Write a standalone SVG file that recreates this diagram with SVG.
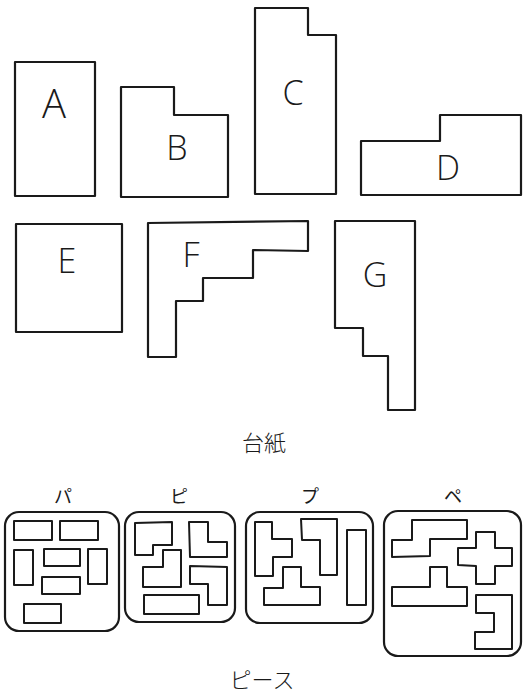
<svg xmlns="http://www.w3.org/2000/svg" width="530" height="697" viewBox="0 0 530 697">
<style>
.s{fill:none;stroke:#1a1a1a;stroke-width:2.2;stroke-linejoin:round;stroke-linecap:round}
.p{fill:none;stroke:#1a1a1a;stroke-width:2;stroke-linejoin:round}
.f{fill:none;stroke:#1a1a1a;stroke-width:2.2}
.lt{font-family:"Open Sans","Liberation Sans",sans-serif;font-weight:300;font-size:34px;fill:#1a1a1a;text-anchor:middle}
.kt{font-family:"Noto Sans CJK JP",sans-serif;font-size:18px;fill:#1a1a1a;text-anchor:middle}
.cap{font-family:"Noto Sans CJK JP",sans-serif;font-weight:300;font-size:22px;fill:#1a1a1a;text-anchor:middle}
</style>
<rect width="530" height="697" fill="#fff"/>

<g id="A">
<rect class="s" x="15" y="62" width="80" height="134"/>
<text class="lt" x="54" y="118" style="font-size:40px">A</text>
</g>
<g id="B">
<polygon class="s" points="121,87 174,87 174,115 228,115 228,197 121,197"/>
<text class="lt" x="177" y="160">B</text>
</g>
<g id="C">
<polygon class="s" points="255,8 308,8 308,35 336,35 336,194 255,194"/>
<text class="lt" x="293" y="105">C</text>
</g>
<g id="D">
<polygon class="s" points="361,141 440,141 440,115 521,115 521,195 361,195"/>
<text class="lt" x="448" y="180">D</text>
</g>
<g id="E">
<rect class="s" x="16" y="224" width="106" height="108"/>
<text class="lt" x="67" y="273">E</text>
</g>
<g id="F">
<polygon class="s" points="148,223 308,221 308,251 253,250 253,278 203,278 203,301 176,301 176,357 148,357"/>
<text class="lt" x="191" y="267">F</text>
</g>
<g id="G">
<polygon class="s" points="335,221 415,221 415,410 388,410 388,356 363,356 363,328 335,328"/>
<text class="lt" x="375" y="287">G</text>
</g>

<text id="daishi" class="cap" x="264" y="451">台紙</text>

<g id="pa">
<text class="kt" x="63" y="503">パ</text>
<rect class="f" x="5" y="512" width="114" height="119" rx="14"/>
<rect class="p" x="14" y="521" width="38" height="19"/>
<rect class="p" x="60" y="521" width="38" height="19"/>
<rect class="p" x="14" y="550" width="19" height="35"/>
<rect class="p" x="44" y="549" width="36" height="17"/>
<rect class="p" x="88" y="549" width="19" height="35"/>
<rect class="p" x="42" y="577" width="38" height="17"/>
<rect class="p" x="24" y="604" width="37" height="19"/>
</g>

<g id="pi">
<text class="kt" x="179" y="503">ピ</text>
<rect class="f" x="125" y="512" width="110" height="110" rx="14"/>
<polygon class="p" points="135,523 172,522 172,545 153,545 153,555 135,555"/>
<polygon class="p" points="189,522 208,522 208,542 227,542 227,557 190,557"/>
<polygon class="p" points="163,550 181,550 181,587 143,587 143,567 163,567"/>
<polygon class="p" points="190,566 227,567 227,605 208,605 208,584 190,584"/>
<rect class="p" x="144" y="595" width="55" height="19"/>
</g>

<g id="pu">
<text class="kt" x="310" y="503">プ</text>
<rect class="f" x="246" y="512" width="127" height="111" rx="14"/>
<polygon class="p" points="255,522 272,522 272,539 292,539 292,557 273,557 273,576 255,576"/>
<polygon class="p" points="301,519 337,519 337,575 320,575 320,540 302,540"/>
<rect class="p" x="347" y="530" width="19" height="75"/>
<polygon class="p" points="283,567 301,567 301,587 320,587 320,605 264,605 264,588 283,588"/>
</g>

<g id="pe">
<text class="kt" x="453" y="503">ペ</text>
<rect class="f" x="384" y="511" width="137" height="145" rx="14"/>
<polygon class="p" points="412,520 467,520 467,539 430,539 430,556 392,557 392,540 412,540"/>
<polygon class="p" points="476,532 495,532 495,548 512,548 512,566 495,566 495,584 476,584 476,566 458,565 458,548 476,548"/>
<polygon class="p" points="430,567 447,567 447,587 467,587 467,606 392,606 392,587 430,587"/>
<polygon class="p" points="476,595 512,595 512,649 475,649 475,632 494,632 494,613 476,613"/>
</g>

<text id="piece" class="cap" x="262" y="688">ピース</text>
</svg>
